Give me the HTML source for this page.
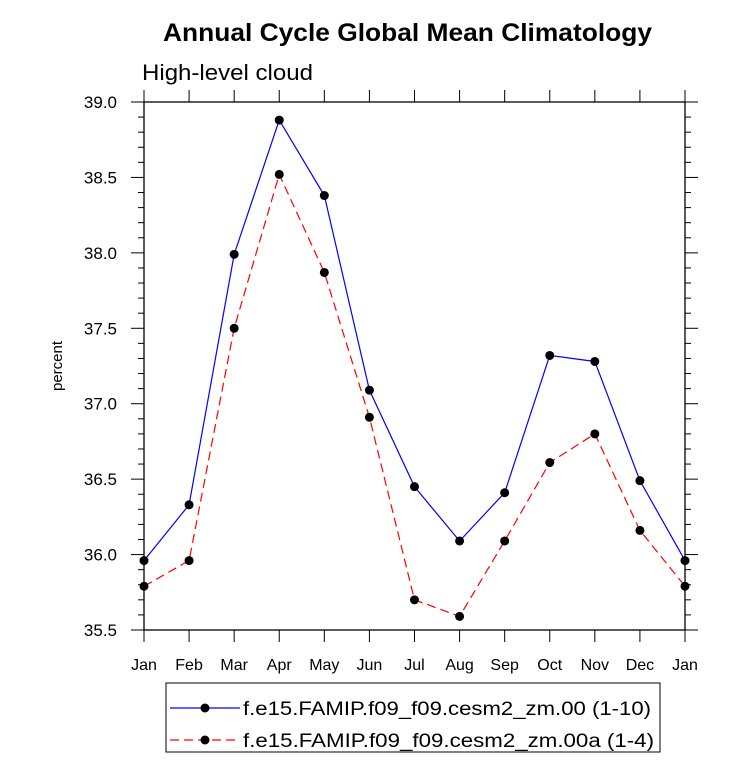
<!DOCTYPE html>
<html><head><meta charset="utf-8"><style>
body{margin:0;background:#fff;}
svg{font-family:"Liberation Sans",sans-serif;}
</style></head><body>
<svg id="chart" width="733" height="766">
<rect width="733" height="766" fill="#fff"/>
<text x="163" y="41" font-size="25" font-weight="bold" textLength="489" lengthAdjust="spacingAndGlyphs">Annual Cycle Global Mean Climatology</text>
<text x="142" y="80" font-size="22" textLength="171" lengthAdjust="spacingAndGlyphs">High-level cloud</text>
<text transform="translate(62,366) rotate(-90)" text-anchor="middle" font-size="15">percent</text>
<g id="axes"></g>
<g id="series"></g>
<g>
<rect x="166" y="683" width="494" height="69" fill="none" stroke="#000" stroke-width="1"/>
<line x1="170" y1="708" x2="240" y2="708" stroke="#00f" stroke-width="1.2"/>
<circle cx="205" cy="708" r="4.5" fill="#000"/>
<text x="243" y="715" font-size="19" textLength="408" lengthAdjust="spacingAndGlyphs">f.e15.FAMIP.f09_f09.cesm2_zm.00 (1-10)</text>
<line x1="170" y1="740" x2="240" y2="740" stroke="#f00" stroke-width="1.2" stroke-dasharray="9,5"/>
<circle cx="205" cy="740" r="4.5" fill="#000"/>
<text x="243" y="747" font-size="19" textLength="411" lengthAdjust="spacingAndGlyphs">f.e15.FAMIP.f09_f09.cesm2_zm.00a (1-4)</text>
</g>
</svg>
<script>
const months=["Jan","Feb","Mar","Apr","May","Jun","Jul","Aug","Sep","Oct","Nov","Dec","Jan"];
const yTicks=["35.5","36.0","36.5","37.0","37.5","38.0","38.5","39.0"];
const seriesA=[35.96,36.33,37.99,38.88,38.38,37.09,36.45,36.09,36.41,37.32,37.28,36.49,35.96];
const seriesB=[35.79,35.96,37.50,38.52,37.87,36.91,35.70,35.59,36.09,36.61,36.80,36.16,35.79];
const X0=144,X1=685,Y0=102,Y1=630,YMIN=35.5,YMAX=39.0;
const xs=i=>X0+(X1-X0)*i/(months.length-1);
const ys=v=>Y1-(v-YMIN)/(YMAX-YMIN)*(Y1-Y0);
const NS="http://www.w3.org/2000/svg";
function mk(tag,attrs,parent){const e=document.createElementNS(NS,tag);for(const k in attrs)e.setAttribute(k,attrs[k]);parent.appendChild(e);return e;}
const ax=document.getElementById('axes');
const frame=mk('rect',{x:X0,y:Y0,width:X1-X0,height:Y1-Y0,fill:'none',stroke:'#000','stroke-width':1.3},ax);


months.forEach((m,i)=>{const x=xs(i);
mk('line',{x1:x,y1:Y1,x2:x,y2:Y1+12,stroke:'#000'},ax);
mk('line',{x1:x,y1:Y0,x2:x,y2:Y0-12,stroke:'#000'},ax);
const t=mk('text',{x:x,y:Y1+40,'text-anchor':'middle','font-size':16},ax);t.textContent=m;

});
for(let k=0;k<=35;k++){const v=YMIN+k*0.1;const y=ys(v);const maj=k%5===0;const L=maj?13:6;
mk('line',{x1:X0,y1:y,x2:X0-L,y2:y,stroke:'#000'},ax);
mk('line',{x1:X1,y1:y,x2:X1+L,y2:y,stroke:'#000'},ax);}
yTicks.forEach(s=>{const y=ys(parseFloat(s));const t=mk('text',{x:X0-27,y:y+6,'text-anchor':'end','font-size':17},ax);t.textContent=s;

});
const sg=document.getElementById('series');
function draw(vals,color,dash,name){
const pts=vals.map((v,i)=>xs(i)+','+ys(v)).join(' ');
const pl=mk('polyline',{points:pts,fill:'none',stroke:color,'stroke-width':1.2},sg);
if(dash)pl.setAttribute('stroke-dasharray',dash);


vals.forEach((v,i)=>{const c=mk('circle',{cx:xs(i),cy:ys(v),r:4.5,fill:'#000'},sg);

});}
draw(seriesA,'#00f',null,'series-a');
draw(seriesB,'#f00','9,5','series-b');
</script>
</body></html>
